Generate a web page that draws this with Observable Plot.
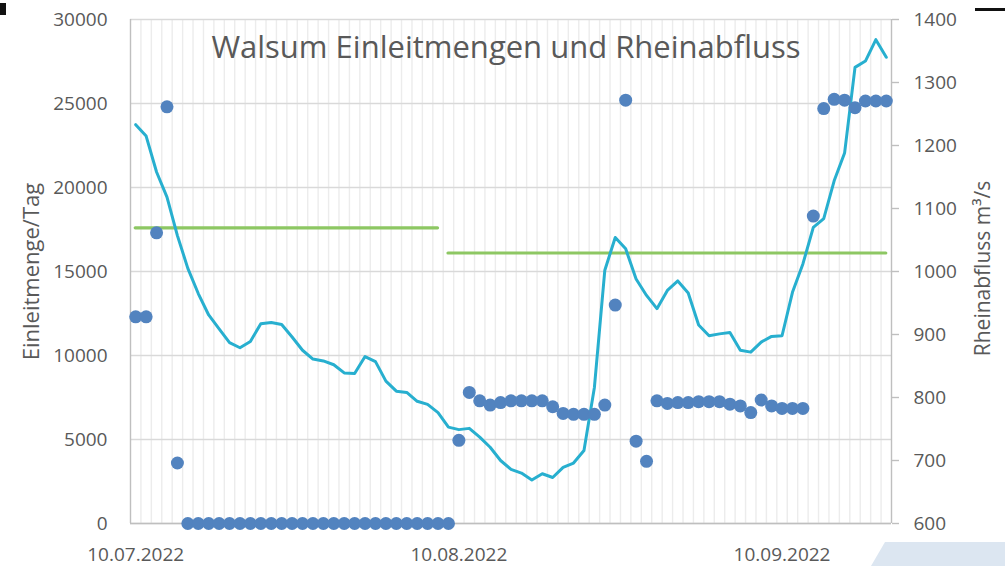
<!DOCTYPE html>
<html>
<head>
<meta charset="utf-8">
<script src="https://cdn.jsdelivr.net/npm/d3@7"></script>
<script src="https://cdn.jsdelivr.net/npm/@observablehq/plot@0.6"></script>
<style>
  html, body { margin: 0; padding: 0; background: #fff; }
  #wrap { position: relative; width: 1005px; height: 566px; overflow: hidden; font-family: "Open Sans", sans-serif; }
  #chart svg { display: block; }
  .deco1 { position: absolute; left: 0; top: 3px; width: 6px; height: 12px; background: #111; }
  .deco2 { position: absolute; left: 975px; top: 8px; width: 30px; height: 3px; background: #111; }
  .deco3 { position: absolute; left: 871px; top: 542px; width: 134px; height: 24px; background: #dce6f1;
           clip-path: polygon(14px 0, 134px 0, 134px 24px, 0 24px); }
</style>
</head>
<body>
<div id="wrap"><div id="chart"></div><div class="deco1"></div><div class="deco2"></div><div class="deco3"></div></div>
<script>
// ---- data ----
const dates = [
  "2022-07-10","2022-07-11","2022-07-12","2022-07-13","2022-07-14","2022-07-15","2022-07-16","2022-07-17","2022-07-18","2022-07-19",
  "2022-07-20","2022-07-21","2022-07-22","2022-07-23","2022-07-24","2022-07-25","2022-07-26","2022-07-27","2022-07-28","2022-07-29",
  "2022-07-30","2022-07-31","2022-08-01","2022-08-02","2022-08-03","2022-08-04","2022-08-05","2022-08-06","2022-08-07","2022-08-08",
  "2022-08-09","2022-08-10","2022-08-11","2022-08-12","2022-08-13","2022-08-14","2022-08-15","2022-08-16","2022-08-17","2022-08-18",
  "2022-08-19","2022-08-20","2022-08-21","2022-08-22","2022-08-23","2022-08-24","2022-08-25","2022-08-26","2022-08-27","2022-08-28",
  "2022-08-29","2022-08-30","2022-08-31","2022-09-01","2022-09-02","2022-09-03","2022-09-04","2022-09-05","2022-09-06","2022-09-07",
  "2022-09-08","2022-09-09","2022-09-10","2022-09-11","2022-09-12","2022-09-13","2022-09-14","2022-09-15","2022-09-16","2022-09-17",
  "2022-09-18","2022-09-19","2022-09-20"
];
// Einleitmenge/Tag (left axis)
const einleitmenge = [
  12300,12300,17300,24800,3600,0,0,0,0,0,
  0,0,0,0,0,0,0,0,0,0,
  0,0,0,0,0,0,0,0,0,0,
  0,4950,7800,7300,7050,7200,7300,7300,7300,7300,
  6950,6550,6500,6500,6500,7050,13000,25200,4900,3700,
  7300,7150,7200,7200,7250,7250,7250,7100,7000,6600,
  7350,7000,6850,6850,6850,18300,24700,25250,25200,24750,
  25150,25150,25150
];
// Rheinabfluss m³/s (right axis)
const rheinabfluss = [
  1233,1215,1158,1118,1057,1005,965,931,909,887,
  879,889,917,919,916,896,875,861,858,852,
  839,838,865,857,826,810,808,794,789,776,
  753,749,751,737,721,700,686,680,669,679,
  673,689,696,716,816,1002,1054,1036,988,962,
  941,970,985,966,915,898,901,903,875,872,
  888,897,898,967,1012,1070,1084,1144,1188,1324,
  1334,1368,1340
];
// Genehmigte Einleitmenge (green limit lines)
const limitFrom  = ["2022-07-10", "2022-08-09"];
const limitTo    = ["2022-08-08", "2022-09-20"];
const limitValue = [17600, 16100];

const leftTicks  = [0, 5000, 10000, 15000, 20000, 25000, 30000];
const rightTicks = [600, 700, 800, 900, 1000, 1100, 1200, 1300, 1400];
const xTickDates = ["2022-07-10", "2022-08-10", "2022-09-10"];

const title  = "Walsum Einleitmengen und Rheinabfluss";
const yLabel = "Einleitmenge/Tag";
const y2Label = "Rheinabfluss m³/s";

// ---- build ----
const parse = s => new Date(s + "T00:00:00Z");
const r0 = 600, r1 = 1400, l0 = 0, l1 = 30000;
const toLeft = v => l0 + (v - r0) * (l1 - l0) / (r1 - r0);
const fromLeft = v => r0 + (v - l0) * (r1 - r0) / (l1 - l0);

const pts = dates.map((d, i) => ({date: parse(d), menge: einleitmenge[i], abfluss: toLeft(rheinabfluss[i])}));
const limits = limitValue.map((v, i) => ({from: parse(limitFrom[i]), to: parse(limitTo[i]), value: v}));

const half = 12 * 3600 * 1000;
const x0 = new Date(parse(dates[0]).getTime() - half);
const x1 = new Date(parse(dates[dates.length - 1]).getTime() + half);
const dayBounds = d3.utcDay.range(parse(dates[0]), parse(dates[dates.length - 1]), 1)
  .map(d => new Date(d.getTime() + half));

const textColor = "#595959";
const fs = 19;

const chart = Plot.plot({
  width: 1005,
  height: 566,
  marginLeft: 130,
  marginRight: 114,
  marginTop: 19,
  marginBottom: 43,
  style: {fontFamily: "'Open Sans', sans-serif", background: "#fff", color: textColor},
  x: {type: "utc", domain: [x0, x1]},
  y: {domain: [l0, l1]},
  marks: [
    Plot.gridX(dayBounds, {stroke: "#ececec", strokeOpacity: 1, strokeWidth: 1.4}),
    Plot.gridY(leftTicks, {stroke: "#d9d9d9", strokeOpacity: 1, strokeWidth: 1.4}),
    Plot.ruleX([x0, x1], {stroke: "#bfbfbf", strokeWidth: 1.4}),
    Plot.ruleY([l0], {stroke: "#bfbfbf", strokeWidth: 1.4}),
    Plot.axisY({anchor: "left", ticks: leftTicks, tickSize: 0, tickPadding: 23, fontSize: fs, fill: textColor, label: null, tickFormat: d => String(d)}),
    Plot.axisY({anchor: "right", ticks: rightTicks.map(toLeft), tickSize: 7, tickPadding: 15, fontSize: fs, fill: textColor, stroke: "#bfbfbf", strokeWidth: 1.4, label: null, tickFormat: d => String(Math.round(fromLeft(d)))}),
    Plot.axisX({ticks: xTickDates.map(parse), tickSize: 0, tickPadding: 24, fontSize: fs, fill: textColor, label: null, tickFormat: d3.utcFormat("%d.%m.%Y")}),
    Plot.ruleY(limits, {y: "value", x1: "from", x2: "to", stroke: "#8dc763", strokeWidth: 3.2, strokeLinecap: "round"}),
    Plot.line(pts, {x: "date", y: "abfluss", stroke: "#27afcf", strokeWidth: 3, strokeLinejoin: "round"}),
    Plot.dot(pts, {x: "date", y: "menge", r: 6.5, fill: "#5283bf", stroke: "none"}),
    Plot.text([title], {frameAnchor: "top", dy: 29, dx: -5, lineAnchor: "middle", fontSize: 31, fill: textColor}),
    Plot.text([yLabel], {frameAnchor: "left", textAnchor: "middle", dx: -99, rotate: -90, fontSize: 22, fill: textColor}),
    Plot.text([y2Label], {frameAnchor: "right", textAnchor: "middle", dx: 92, dy: -3, rotate: -90, fontSize: 21, fill: textColor})
  ]
});
document.getElementById("chart").appendChild(chart);
</script>
</body>
</html>
